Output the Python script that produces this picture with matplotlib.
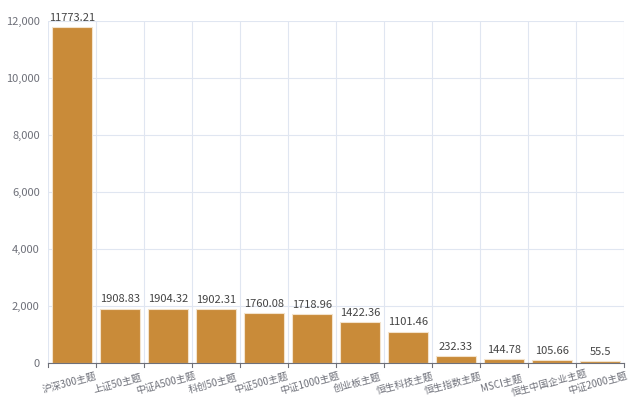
import matplotlib
matplotlib.use("Agg")
import matplotlib.pyplot as plt
import matplotlib.transforms as mtransforms
import numpy as np

plt.rcParams['font.family'] = ['Noto Sans CJK SC', 'DejaVu Sans']

categories = ["沪深300主题", "上证50主题", "中证A500主题", "科创50主题", "中证500主题",
              "中证1000主题", "创业板主题", "恒生科技主题", "恒生指数主题", "MSCI主题",
              "恒生中国企业主题", "中证2000主题"]
values = [11773.21, 1908.83, 1904.32, 1902.31, 1760.08, 1718.96, 1422.36, 1101.46,
          232.33, 144.78, 105.66, 55.5]
value_labels = ["11773.21", "1908.83", "1904.32", "1902.31", "1760.08", "1718.96",
                "1422.36", "1101.46", "232.33", "144.78", "105.66", "55.5"]
yticks = [0, 2000, 4000, 6000, 8000, 10000, 12000]

fig = plt.figure(figsize=(6.3, 4.05), dpi=100)
ax = fig.add_axes([48/630, 42/405, 576/630, 342/405])

n = len(categories)
x = np.arange(n)
ax.bar(x, values, width=0.82, color="#C98B39", edgecolor="#F3E3CC", linewidth=0.8, zorder=3)
for xi, v, lab in zip(x, values, value_labels):
    ax.text(xi, v + 150, lab, ha="center", va="bottom", fontsize=8, color="#444444", zorder=4)

ax.set_xlim(-0.5, n - 0.5)
ax.set_ylim(0, 12000)
ax.set_yticks(yticks)
ax.set_yticklabels([f"{t:,}" for t in yticks], fontsize=8, color="#6E7079")
ax.set_xticks(x)
ax.set_xticklabels(categories, rotation=15, ha="center", va="top", rotation_mode="anchor",
                   fontsize=7, color="#6E7079")
ax.tick_params(axis="x", length=0, pad=11)
ax.tick_params(axis="y", length=0, pad=6)
offset = mtransforms.ScaledTranslation(-3/72, 0, fig.dpi_scale_trans)
for lbl in ax.get_xticklabels():
    lbl.set_transform(lbl.get_transform() + offset)

# boundary gridlines
for b in np.arange(-0.5, n, 1.0):
    ax.axvline(b, color="#E0E6F1", linewidth=0.8, zorder=1)
    ax.plot([b, b], [0, -0.012], transform=ax.get_xaxis_transform(), color="#6E7079",
            linewidth=0.8, clip_on=False)
ax.yaxis.grid(True, color="#E0E6F1", linewidth=0.8, zorder=1)

for s in ["top", "right", "left"]:
    ax.spines[s].set_visible(False)
ax.spines["bottom"].set_color("#6E7079")
ax.spines["bottom"].set_linewidth(0.8)
ax.spines["bottom"].set_zorder(5)

fig.savefig("out.png", dpi=100)
